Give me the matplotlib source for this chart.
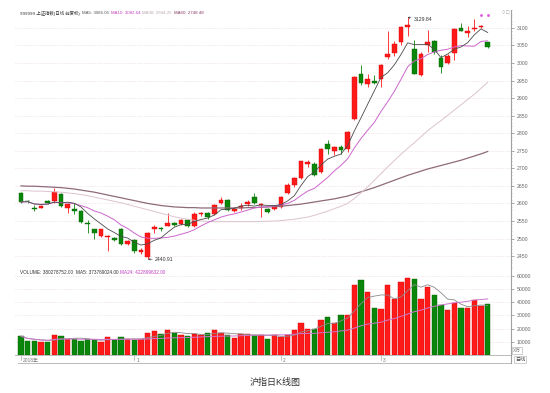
import matplotlib
matplotlib.use('Agg')
import matplotlib.pyplot as plt
from matplotlib.lines import Line2D
from matplotlib.ticker import MultipleLocator
import pandas as pd

plt.rcParams['font.family'] = ['Liberation Sans', 'Noto Sans CJK SC']

# daily candles
opens = [2630, 2607, 2588, 2588, 2607, 2607, 2626, 2586, 2583, 2578,
         2545, 2526, 2506, 2505, 2502, 2527, 2485, 2497, 2461, 2446,
         2528, 2530, 2536, 2545, 2541, 2553, 2536, 2569, 2573, 2569,
         2600, 2610, 2577, 2586, 2597, 2617, 2596, 2584, 2584, 2590,
         2630, 2652, 2672, 2712, 2712, 2690, 2770, 2748, 2762, 2756,
         2840, 2969, 2940, 2950, 2955, 3016, 3028, 3061, 3102, 3039,
         2966, 3050, 3063, 3014, 3001, 3028, 3101, 3085, 3096, 3102,
         3059]
highs = [2633, 2610, 2595, 2596, 2610, 2645, 2630, 2600, 2600, 2580,
         2553, 2528, 2528, 2510, 2504, 2530, 2497, 2499, 2474, 2518,
         2538, 2534, 2573, 2548, 2555, 2555, 2575, 2576, 2576, 2598,
         2617, 2612, 2590, 2600, 2610, 2630, 2602, 2587, 2596, 2620,
         2658, 2675, 2722, 2725, 2718, 2757, 2780, 2763, 2766, 2806,
         2962, 2995, 2969, 2966, 2996, 3090, 3062, 3106, 3129.84, 3066,
         3032, 3094, 3066, 3023, 3025, 3099, 3115, 3104, 3126, 3107,
         3061]
lows = [2602, 2601, 2579, 2586, 2598, 2602, 2591, 2572, 2571, 2545,
        2517, 2500, 2504, 2464, 2494, 2482, 2482, 2460, 2457, 2440.91,
        2516, 2521, 2535, 2536, 2538, 2534, 2533, 2565, 2556, 2566,
        2597, 2578, 2575, 2581, 2594, 2598, 2562, 2573, 2580, 2588,
        2628, 2648, 2670, 2705, 2678, 2688, 2742, 2738, 2741, 2746,
        2838, 2938, 2931, 2940, 2931, 3011, 3020, 3050, 3077, 2969,
        2963, 3030, 3026, 2971, 2998, 3009, 3090, 3075, 3092, 3100,
        3043]
closes = [2604, 2606, 2585, 2594, 2601, 2632, 2594, 2597, 2578, 2548,
          2540, 2516, 2526, 2506, 2497, 2484, 2494, 2465, 2467, 2515,
          2534, 2528, 2545, 2539, 2552, 2536, 2571, 2573, 2560, 2595,
          2611, 2581, 2583, 2594, 2604, 2600, 2597, 2576, 2592, 2618,
          2653, 2671, 2721, 2719, 2682, 2754, 2755, 2761, 2751, 2804,
          2961, 2942, 2955, 2942, 2995, 3027, 3055, 3103, 3107, 2970,
          3027, 3060, 3030, 2990, 3021, 3096, 3092, 3091, 3101, 3106,
          3045]
volumes = [14300, 10800, 10800, 9800, 10000, 15100, 14300, 12000, 12000, 10600,
           12000, 11600, 9800, 13800, 11300, 13300, 12000, 11100, 12300, 17000,
           18000, 15800, 19100, 16600, 15100, 14600, 16100, 15300, 16600, 19100,
           16800, 15300, 13000, 15800, 16300, 14800, 15300, 12300, 15100, 13300,
           15300, 18800, 24600, 19600, 19600, 26400, 28900, 24600, 30200, 30200,
           53200, 56700, 47900, 35300, 34700, 52900, 42300, 55400, 58700, 58000,
           42800, 51700, 45600, 37800, 34200, 39800, 35300, 36000, 41500, 36800,
           38500]
ma30 = [2636, 2636, 2635, 2635, 2634, 2633, 2632, 2630, 2628, 2625,
        2622, 2618, 2614, 2610, 2606, 2602, 2597, 2592, 2587, 2582,
        2577, 2572, 2567, 2562, 2558, 2555, 2552, 2550, 2549, 2548,
        2548, 2548, 2548, 2548, 2548, 2548, 2549, 2549, 2550, 2551,
        2553, 2555, 2558, 2561, 2566, 2572, 2578, 2585, 2592, 2600,
        2614, 2630, 2647, 2666, 2685, 2704, 2722, 2740, 2757, 2773,
        2790, 2807, 2822, 2836, 2851, 2866, 2881, 2896, 2911, 2928,
        2945]
ma60 = [2650, 2649, 2649, 2648, 2647, 2646, 2645, 2643, 2641, 2638,
        2635, 2632, 2628, 2624, 2620, 2616, 2612, 2608, 2604, 2600,
        2597, 2594, 2592, 2590, 2589, 2588, 2588, 2587, 2587, 2587,
        2587, 2587, 2587, 2587, 2588, 2588, 2589, 2590, 2591, 2592,
        2594, 2596, 2598, 2601, 2604, 2607, 2610, 2613, 2617, 2621,
        2627, 2633, 2639, 2645, 2652, 2659, 2666, 2673, 2680, 2686,
        2692, 2698, 2703, 2708, 2713, 2718, 2723, 2729, 2735, 2741,
        2748]

price_ticks = list(range(2450, 3101, 50))
vol_ticks = [10000, 20000, 30000, 40000, 50000, 60000]
month_labels = ['2018年', '1', '2', '3']
month_pos = [0, 17, 39, 54]

W, H = 550, 393
def fy(py):
    return 1 - py / H

n = len(closes)
xs = list(range(n))
RED, RED_E = '#ff1a1a', '#d40000'
GRN, GRN_E = '#0a870a', '#006400'
up = [c >= o for o, c in zip(opens, closes)]
cols = [RED if u else GRN for u in up]
edges = [RED_E if u else GRN_E for u in up]

fig = plt.figure(figsize=(5.5, 3.93), dpi=100)
ax = fig.add_axes([15 / W, fy(268), 496 / W, 258 / H])
axv = fig.add_axes([15 / W, fy(355), 496 / W, 87 / H])

# price panel
ax.set_xlim(-0.9, 73.5)
ax.set_ylim(2416, 3151)
for y in price_ticks:
    ax.axhline(y, color='#e8d2da', lw=0.5, ls=(0, (1, 1.5)), zorder=0)
ax.vlines(xs, lows, highs, colors=cols, lw=0.6, zorder=2)
bottoms = [min(o, c) for o, c in zip(opens, closes)]
heights = [max(abs(c - o), 1.3) for o, c in zip(opens, closes)]
ax.bar(xs, heights, bottom=bottoms, width=0.66, color=cols,
       edgecolor=edges, lw=0.3, zorder=2)

ma5 = pd.Series(closes).rolling(5, min_periods=1).mean()
ma10 = pd.Series(closes).rolling(10, min_periods=1).mean()
ax.plot(xs, ma60, color='#8e6a7a', lw=0.9, zorder=3)
ax.plot(xs, ma30, color='#dcc3cf', lw=0.7, zorder=3)
ax.plot(xs, ma10, color='#cc66cc', lw=0.7, zorder=3)
ax.plot(xs, ma5, color='#4a4a4a', lw=0.6, zorder=3)

ax.annotate('2440.91', xy=(19.05, 2440.91), xytext=(20.1, 2440.91),
            fontsize=3.7, color='#333333', va='center', ha='left',
            arrowprops=dict(arrowstyle='->', lw=0.4, color='#333333',
                            shrinkA=0, shrinkB=0, mutation_scale=3))
ax.annotate('3129.84', xy=(58, 3129.84), xytext=(58.9, 3125),
            fontsize=3.7, color='#333333', va='center', ha='left',
            arrowprops=dict(arrowstyle='->', lw=0.4, color='#333333',
                            shrinkA=0, shrinkB=0, mutation_scale=3))
ax.plot([69, 70], [3136, 3136], 's', ms=0.9, color='#dd55dd', zorder=4)

for s in ['top', 'left']:
    ax.spines[s].set_visible(False)
ax.spines['bottom'].set_color('#c8c8c8')
ax.spines['bottom'].set_linewidth(0.6)
ax.spines['right'].set_color('#a0a0a0')
ax.spines['right'].set_linewidth(0.8)
ax.yaxis.tick_right()
ax.set_yticks(price_ticks)
ax.yaxis.set_minor_locator(MultipleLocator(10))
ax.tick_params(axis='y', which='major', labelsize=3.7, colors='#888888',
               labelcolor='#666666', length=2, width=0.5, pad=2)
ax.tick_params(axis='y', which='minor', length=1, width=0.4, colors='#aaaaaa')
ax.set_xticks([])

# volume panel
axv.set_xlim(-0.9, 73.5)
axv.set_ylim(0, 66000)
for v in vol_ticks:
    axv.axhline(v, color='#e8d2da', lw=0.5, ls=(0, (1, 1.5)), zorder=0)
axv.bar(xs, volumes, width=0.78, color=cols, edgecolor=edges, lw=0.3, zorder=2)
vma5 = pd.Series(volumes).rolling(5, min_periods=1).mean()
vma24 = pd.Series(volumes).rolling(24, min_periods=1).mean()
axv.plot(xs, vma5, color='#8a8a8a', lw=0.6, zorder=3)
axv.plot(xs, vma24, color='#cc77cc', lw=0.7, zorder=3)
axv.spines['top'].set_visible(False)
axv.spines['left'].set_visible(False)
axv.spines['bottom'].set_color('#b0b0b0')
axv.spines['bottom'].set_linewidth(0.6)
axv.spines['right'].set_color('#a0a0a0')
axv.spines['right'].set_linewidth(0.8)
axv.yaxis.tick_right()
axv.set_yticks(vol_ticks)
axv.tick_params(axis='y', labelsize=3.7, colors='#888888', labelcolor='#666666',
                length=2, width=0.5, pad=2)
axv.set_xticks([])

# date strip
for p, lab in zip(month_pos, month_labels):
    axv.plot([p, p], [0, -3500], color='#aaaaaa', lw=0.5, clip_on=False)
    axv.text(p + 0.3, -3800, lab, fontsize=3.5, color='#777777',
             ha='left', va='center', clip_on=False)
fig.add_artist(Line2D([18 / W, 511 / W], [fy(362.5)] * 2, color='#b0b0b0', lw=0.6))
fig.add_artist(Line2D([511 / W, 511 / W], [fy(362.5), fy(355)], color='#a0a0a0', lw=0.8))

# header texts, placed one after the other
renderer = fig.canvas.get_renderer()
def text_row(x0, y, parts, size=3.7, gap=3):
    x = x0
    for s, c in parts:
        t = fig.text(x / W, y, s, fontsize=size, color=c, va='center')
        x += t.get_window_extent(renderer=renderer).width + gap

text_row(20, fy(13), [('999999 上证指数(日线 前复权)', '#333333'),
                      ('MA5: 3086.05', '#555555'),
                      ('MA10: 3082.64', '#c040c0'),
                      ('MA30: 2944.25', '#b8a8b0'),
                      ('MA60: 2748.48', '#8b3a62')], size=3.2, gap=2)
fig.text(501 / W, fy(13), '○', fontsize=4, color='#999999', va='center')
fig.text(506 / W, fy(13), '□', fontsize=4, color='#999999', va='center')

text_row(20, fy(272), [('VOLUME: 380278752.00', '#333333'),
                       ('MA5: 373769024.00', '#333333'),
                       ('MA24: 422899632.00', '#c040c0')], size=3.45, gap=2.5)

fig.text(513 / W, fy(350.5), 'X万', fontsize=3.5, color='#777777', va='center',
         bbox=dict(facecolor='white', edgecolor='#aaaaaa', lw=0.4, pad=0.4))
fig.text(515 / W, fy(359.5), '日线', fontsize=3.7, color='#444444', va='center',
         bbox=dict(facecolor='white', edgecolor='#aaaaaa', lw=0.4, pad=0.4))

fig.text(0.5, fy(382), '沪指日K线图', fontsize=6.5, color='#333333',
         ha='center', va='center')

fig.savefig('out.png', dpi=100)
